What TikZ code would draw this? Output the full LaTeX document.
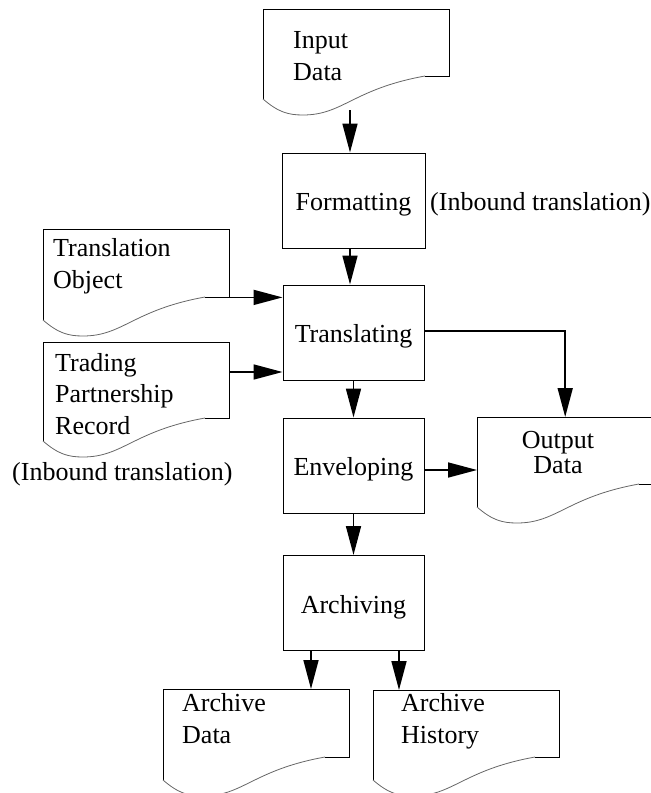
\documentclass[tikz,border=0pt]{standalone}
\usepackage{fontspec}
\setmainfont{Liberation Serif}
\usetikzlibrary{arrows.meta}
\tikzset{
  procbox/.style={draw=black, line width=1pt, inner sep=0pt, minimum width=141pt, minimum height=95pt,
    text height=26pt, text depth=6pt, font=\fontsize{26}{31}\selectfont},
  docnode/.style={draw=none, inner sep=0pt, anchor=north west, minimum width=186pt},
  doctext/.style={inner sep=0pt, anchor=base west, align=left, font=\fontsize{26}{31.5}\selectfont},
  plaintext/.style={inner sep=0pt, anchor=base west, font=\fontsize{26}{31}\selectfont},
  docline/.style={draw=black, line width=1pt},
  doccurve/.style={draw=black!60, line width=0.8pt},
  arr/.style={draw=black, line width=1.7pt, -{Triangle[length=29pt,width=15pt]}},
}
\newcommand\docout[2]{%
  \draw[docline,shift={(#1.north west)}] (0,{90+#2}) -- (0,0) -- (186,0) -- (186,{67+#2}) -- (162,{67+#2});
  \draw[doccurve,shift={(#1.north west)}] (162,{67+#2}) .. controls (90,{80+#2}) and (80,{106+#2}) .. (40,{106+#2}) .. controls (25,{106+#2}) and (15,{103+#2}) .. (0,{90+#2});
}
\begin{document}
\begin{tikzpicture}[x=1pt,y=-1pt]
\useasboundingbox (0,0) rectangle (651,793);
\clip (0,0) rectangle (651,793);

% process boxes
\node[procbox, minimum width=143pt] (fmt) at (353.5,200.5) {Formatting};
\node[procbox] (trn) at (353.5,332.5) {Translating};
\node[procbox] (env) at (353.5,465.5) {Enveloping};
\node[procbox] (arc) at (353.5,603) {Archiving};

% documents
\node[docnode, minimum height=67pt] (ind) at (263,9) {};
\node[docnode, minimum height=68pt] (tob) at (43,229) {};
\node[docnode, minimum height=76pt] (tpr) at (43,342) {};
\node[docnode, minimum height=67pt] (out) at (477,417) {};
\node[docnode, minimum height=68pt] (adt) at (163,689) {};
\node[docnode, minimum height=68pt] (ahs) at (373,690) {};
\docout{ind}{0}
\docout{tob}{1}
\docout{tpr}{9}
\docout{out}{0}
\docout{adt}{1}
\docout{ahs}{0}

% document texts (anchor at baseline of last line)
\node[doctext] (indt) at (293,80) {Input\\Data};
\node[doctext] (tobt) at (53,288) {Translation\\Object};
\node[doctext] (tprt) at (55,434) {Trading\\Partnership\\Record};
\node[doctext, align=center, anchor=base, font=\fontsize{26}{25}\selectfont] (outt) at (558,473) {Output\\Data};
\node[doctext] (adtt) at (182,743) {Archive\\Data};
\node[doctext] (ahst) at (401,743) {Archive\\History};

% annotations
\node[plaintext] (ib1) at (430,210) {(Inbound translation)};
\node[plaintext] (ib2) at (12,480) {(Inbound translation)};

% connectors
\coordinate (indb) at (350,110);
\draw[arr] (indb) -- (indb |- fmt.north);
\draw[arr] (fmt.south -| indb) -- (trn.north -| indb);
\draw[arr] (tob.south east) -- (tob.south east -| trn.west);
\draw[arr] ([yshift=-30pt]tpr.north east) -- ([yshift=-30pt]tpr.north east -| trn.west);
\draw[arr] ([yshift=1.5pt]trn.east) -| ([xshift=-5pt]out.north);
\draw[arr] (trn.south) -- (env.north);
\draw[arr] ([yshift=-4.5pt]env.east) -- ([yshift=-4.5pt]env.east -| out.west);
\draw[arr] (env.south) -- (arc.north);
\draw[arr] ([xshift=-42.5pt]arc.south) -- ([xshift=-42.5pt]arc.south |- adt.north);
\draw[arr] ([xshift=45.5pt]arc.south) -- ([xshift=45.5pt]arc.south |- ahs.north);
\end{tikzpicture}
\end{document}
